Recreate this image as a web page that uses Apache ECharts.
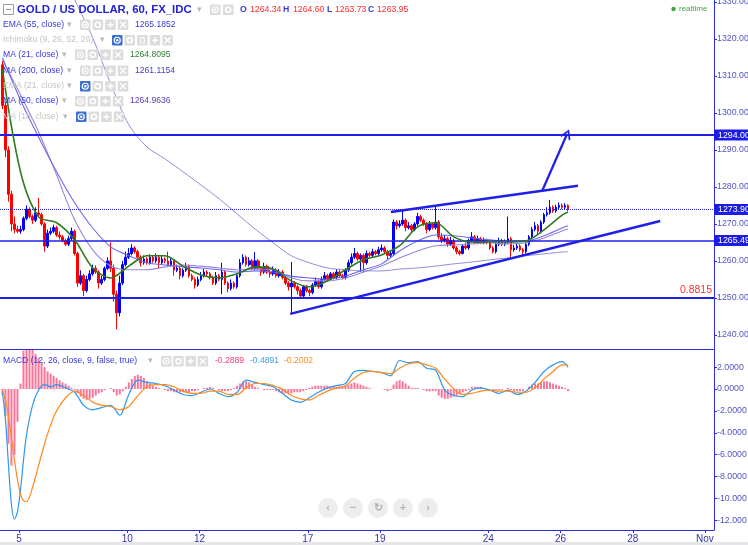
<!DOCTYPE html>
<html><head><meta charset="utf-8">
<script src="https://cdn.jsdelivr.net/npm/echarts@6/dist/echarts.min.js"></script>
<style>html,body{margin:0;padding:0;background:#fff}#c{width:748px;height:545px}</style>
</head><body><div id="c"></div>
<script>
// ---------- DATA (2-hour bars) ----------
const firstOpen = 1313;
const closes = [
1302,1290,1278,1270,1268.5,1268,1268.5,1271.5,1274,1272,
1271,1273,1272.5,1270,1264,1267.5,1268,1269,1267,1266.5,
1265.5,1264.5,1266,1268,1262,1254,1256,1252,1255,1256.5,
1258,1257,1254,1255,1258,1260,1258,1251,1246,1254,
1259,1261,1262,1263.5,1262.5,1261,1259.5,1260.5,1259.5,1261,
1260,1261,1259.5,1260.5,1260,1259,1260,1257.5,1258,1256,
1257.5,1258.5,1256,1255,1253.5,1255,1256,1257,1256.5,1255.5,
1254,1256,1255,1257,1254,1252.5,1254,1253,1256,1259.5,
1261,1259,1260,1258,1260,1258,1257,1258.5,1257,1256.5,
1257.5,1256,1257,1255.5,1254,1253,1254,1253,1252,1250.5,
1253,1252,1251.5,1253.5,1254.5,1253,1255,1256,1255,1256.5,
1255.5,1257,1256,1255.5,1257.5,1259.5,1261,1262,1260.5,1261.5,
1259.5,1262,1261.5,1262.5,1262,1263,1263.5,1262.5,1261.5,1262,
1270.5,1269.5,1270,1271,1269,1269.5,1268.5,1270,1272,1271,
1270,1268.5,1270,1269,1270.5,1266.5,1265.5,1266,1264.5,1265.5,
1263.5,1262.5,1262,1264,1263.5,1265.5,1266.5,1265,1266,1265,
1265.5,1265,1263.5,1262.5,1264.5,1265.5,1264.5,1265,1266,1263,
1263.5,1264,1263,1262.5,1264.5,1266.5,1268.5,1269.5,1268,1270.5,
1272.5,1273,1274.5,1273.5,1274.5,1275,1274.5,1275,1273.9
];
const highs = [
1314,1303,1291,1279,1272,1269.5,1269.5,1272,1275,1274.5,
1272.5,1274.5,1277,1273,1270.5,1268.5,1269,1269.8,1269.5,1268,
1267,1266,1266.8,1269,1268.5,1262.5,1257.5,1256.5,1256,1257.5,
1259,1258.8,1257.5,1256,1258.5,1261,1265,1259,1252,1256,
1260,1262.5,1263.5,1264.5,1264,1263,1261.5,1261.5,1261,1261.8,
1261.5,1262,1261.5,1261.5,1261,1262.5,1261,1260.5,1259,1258.5,
1258,1259.5,1259,1256.5,1255.5,1255.8,1257,1257.8,1257.5,1257,
1256,1257,1256.5,1259.5,1257.5,1254.5,1255,1254.5,1256.5,1260.5,
1261.8,1261.5,1261,1260.5,1262.4,1260.5,1258.5,1259.5,1259,1258,
1258.5,1258,1257.8,1257.5,1256,1254.5,1259.7,1254.5,1253.5,1252.5,
1253.5,1253.5,1252.5,1254,1255.5,1255,1255.8,1257,1256.5,1257,
1257,1257.8,1257.5,1256.5,1258,1260.3,1262,1263.5,1262.5,1262,
1262,1262.8,1262.5,1263.3,1263,1263.8,1264.5,1264,1263,1262.8,
1271.2,1271,1271,1273.8,1271.5,1270.5,1270,1270.5,1273,1272.5,
1271.5,1270.5,1270.8,1270.5,1274.6,1271,1267.5,1267,1266.5,1266.5,
1266,1264,1263,1264.5,1265,1266,1267.8,1267,1266.8,1266.5,
1266.3,1266,1265.5,1264,1265,1266.3,1266,1265.8,1272,1266.5,
1264.3,1264.8,1264.5,1263.5,1265,1267,1269.2,1270.5,1270,1271,
1273,1274.5,1276.5,1275,1275.2,1275.8,1275.5,1275.6,1275.3
];
const lows = [
1301,1288,1276,1268,1267.5,1267.5,1267.3,1268,1271,1271.5,
1270,1270.5,1271.8,1269.5,1262.5,1263.5,1267,1267.5,1266.5,1265.8,
1265,1264,1264,1265.5,1261.5,1253,1253.5,1250.5,1251.5,1254.5,
1256,1256.5,1252.5,1253.5,1254.5,1257.5,1257,1249,1241.5,1245,
1253.5,1258.5,1260.5,1261.5,1262,1260.5,1258.5,1259,1259,1259,
1259.5,1259.5,1258,1259,1259.3,1258.3,1258.5,1256,1257,1255,
1255.5,1257,1255.5,1254.5,1252.5,1253,1254.5,1255.5,1255.8,1255,
1253.5,1253.5,1254.5,1251,1253.5,1251.5,1252,1252.5,1252.5,1255.5,
1259,1258.5,1258.5,1257.5,1257.5,1257.5,1256,1256.5,1256.5,1255.5,
1256,1255.5,1255.5,1255,1253.5,1252,1246,1252.5,1251,1250,
1250,1251.5,1250.5,1251,1253,1252.5,1252.5,1254.5,1254.5,1254.8,
1255,1255,1255.5,1255,1255,1257,1259,1260.5,1260,1257,
1256.8,1259,1261,1261,1261.5,1261.5,1262.5,1262,1260.5,1261,
1261.5,1268.5,1269,1269.5,1268,1268.5,1267.5,1268,1269.5,1270.5,
1269.5,1267.5,1268,1268.5,1268.5,1265.8,1264.8,1265,1263.8,1264,
1263,1261.8,1261.5,1261.8,1263,1263,1265,1264.5,1264.5,1264.5,
1264.5,1264.5,1263,1262,1262,1264,1264,1264,1264.5,1261,
1262.5,1263,1262.5,1261.5,1262,1264,1266,1268,1267,1267.5,
1270,1272,1272.5,1273,1273,1274,1274,1274,1273.5
];
// moving averages sampled at these bar indices
const maIdx = [0,6,12,18,24,30,36,42,48,54,60,66,72,78,84,90,96,102,108,114,120,126,132,138,144,150,156,162,168,174,180,186,188];
const ma21 = [1311.6,1284.1,1271.9,1270.3,1265.7,1258.1,1255.4,1258.6,1261.4,1261.4,1258.6,1256.2,1255.4,1256.5,1258.4,1257.8,1254.6,1253.0,1254.6,1257.6,1260.3,1261.6,1264.1,1269.2,1270.3,1266.5,1265.1,1265.1,1265.1,1265.4,1268.4,1272.4,1273.2];
const ema55 = [1314.9,1303.5,1293.5,1284.1,1275.7,1268.9,1263.8,1261.4,1259.5,1258.9,1258.4,1258.1,1257.6,1257.0,1257.3,1257.0,1255.9,1255.4,1255.1,1255.9,1257.6,1259.2,1262.7,1265.4,1267.0,1266.8,1266.2,1265.7,1265.4,1265.4,1266.8,1268.9,1269.5];
const ma50 = [1314.3,1304.9,1294.9,1283.2,1271.1,1263.0,1258.6,1257.6,1257.6,1258.4,1258.9,1258.6,1258.1,1257.6,1257.8,1257.6,1255.4,1254.6,1254.6,1255.4,1257.0,1258.6,1260.8,1262.7,1264.1,1264.3,1264.6,1264.9,1264.6,1264.9,1266.2,1268.1,1268.6];
const ma200 = [null,null,null,null,1330.5,1320.3,1307.8,1296.8,1290.8,1287.6,1284.1,1280.5,1276.8,1272.7,1268.6,1264.9,1261.4,1259.5,1258.1,1257.6,1257.3,1257.3,1257.8,1258.1,1258.6,1259.2,1259.7,1260.3,1260.8,1261.4,1261.9,1262.4,1262.5];
// MACD lines sampled at these bar indices
const macdIdx = [0,1,2,3,4,5,6,7,8,10,12,14,16,18,21,24,27,30,33,36,39,42,45,48,51,54,57,60,63,66,69,72,75,78,81,84,87,90,93,96,99,102,105,108,111,114,117,120,123,126,129,132,135,138,141,144,147,150,153,156,159,162,165,168,171,174,177,180,183,186,188];
const macdLine = [-0.3,-2.8,-6.9,-10.6,-11.9,-11.2,-9.2,-6.5,-4.2,-1.5,-0.1,0.4,0.2,0.4,0.1,-0.3,-1.5,-1.9,-1.7,-1.5,-2.4,-0.5,0.8,0.6,0.5,0.3,-0.1,-0.5,-0.6,-0.3,0,-0.4,-0.7,-0.3,0.8,0.6,0.4,0.2,-0.4,-1.0,-1.2,-0.8,-0.3,0.1,0.3,0.5,1.6,1.7,1.6,1.5,1.2,2.6,2.4,2.5,1.9,1.7,-0.1,-0.6,-0.7,-0.1,0.1,-0.1,-0.4,-0.1,-0.5,-0.2,0.6,1.6,2.2,2.5,2.0];
const signalLine = [-0.2,-1.0,-2.5,-4.5,-6.5,-8.3,-9.6,-10.2,-10.3,-9.0,-7.0,-5.0,-3.3,-2.0,-0.8,-0.2,-0.6,-1.2,-1.5,-1.6,-1.9,-1.6,-0.6,0.2,0.4,0.4,0.2,-0.2,-0.4,-0.4,-0.2,-0.2,-0.5,-0.5,0.1,0.5,0.5,0.3,0.0,-0.6,-0.9,-1.0,-0.6,-0.2,0.1,0.3,1.0,1.5,1.6,1.5,1.4,1.9,2.3,2.4,2.2,1.9,0.9,0.0,-0.5,-0.4,-0.2,-0.1,-0.2,-0.2,-0.3,-0.3,0.1,0.9,1.6,2.2,2.2];
const hist = [
-0.5,-2.5,-5.0,-7.0,-6.0,-3.0,0.5,3.5,4.0,4.0,
3.6,3.2,2.8,2.4,2.0,1.6,1.4,1.2,1.0,0.8,
0.6,0.5,0.3,0.1,-0.1,-0.4,-0.7,-0.9,-1.0,-0.9,
-0.8,-0.6,-0.4,-0.3,-0.1,0.0,0.1,-0.3,-0.6,-0.5,
-0.2,0.2,0.6,0.9,1.2,1.3,1.2,1.0,0.7,0.5,
0.3,0.2,0.1,0.0,-0.1,-0.2,-0.2,-0.3,-0.3,-0.3,
-0.3,-0.3,-0.3,-0.2,-0.2,-0.1,0.0,0.1,0.1,0.2,
0.1,0.0,-0.1,-0.2,-0.2,-0.2,-0.1,0.1,0.3,0.5,
0.7,0.7,0.6,0.4,0.2,0.1,0.0,-0.1,-0.1,-0.1,
-0.1,-0.2,-0.3,-0.4,-0.4,-0.4,-0.4,-0.3,-0.3,-0.3,
-0.2,-0.1,0.1,0.2,0.3,0.3,0.3,0.3,0.3,0.2,
0.2,0.2,0.2,0.2,0.3,0.4,0.5,0.6,0.5,0.4,
0.3,0.2,0.1,0.0,0.0,0.0,0.0,-0.1,-0.2,-0.1,
0.4,0.7,0.8,0.7,0.5,0.3,0.1,0.1,0.1,0.0,
-0.1,-0.2,-0.2,-0.2,-0.2,-0.6,-0.8,-0.9,-0.9,-0.8,
-0.7,-0.6,-0.5,-0.3,-0.2,-0.1,0.2,0.2,0.2,0.2,
0.1,0.0,0.0,-0.1,-0.1,-0.1,-0.1,0.0,0.1,-0.1,
-0.2,-0.2,-0.2,-0.2,0.0,0.2,0.4,0.5,0.5,0.6,
0.7,0.7,0.6,0.5,0.4,0.3,0.2,0.1,-0.2
];
// axes (x in trading days from Oct 5)
const dayTicks = [0,3,5,8,10,13,15,17,19];
const dayLabels = ['5','10','12','17','19','24','26','28','Nov'];
const priceTicks = [1240,1250,1260,1270,1280,1290,1300,1310,1320,1330];
const macdTicks = [2,0,-2,-4,-6,-8,-10,-12];
// drawn levels and trend lines
const levelTarget = 1294, levelLast = 1273.9, levelSupport = 1265.49, levelBase = 1250, countdownLevel = 1270.8;
const trendUpper = [[10.30,1273.2],[15.48,1280.3]];
const trendLower = [[7.51,1245.7],[17.76,1270.8]];
const arrowLine = [[14.49,1278.9],[15.18,1294.3]];

// ---------- BUILD ----------
const barDay = i => -0.5 + (i + 0.5) / 12;
const candles = closes.map((c, i) => [barDay(i), i === 0 ? firstOpen : closes[i-1], c, lows[i], highs[i]]);
const maSeries = arr => maIdx.map((b, k) => [barDay(b), arr[k]]).filter(p => p[1] != null);
const mSeries = arr => macdIdx.map((b, k) => [barDay(b), arr[k]]);
const histData = hist.map((v, i) => [barDay(i), v]);

const FONT = '"Liberation Sans", Arial, Helvetica, sans-serif';
const AX = '#2d2de0';
const LINE = '#1f1fe8';
const AXLBL = '#5353c2';

const tag = (txt) => ({show:true, position:'end', distance:0, formatter:txt, backgroundColor:'#1c1ce6', color:'#fff',
  fontSize:8.8, fontFamily:FONT, padding:[1,3,1,4]});

const G = [];
function T(x,y,s,fill,size,weight,align,z){ G.push({type:'text', x:x, y:y, silent:true, z:z||100,
  style:{text:s, fill:fill, font:(weight||'normal')+' '+size+'px '+FONT, textAlign:align||'left', textVerticalAlign:'middle', verticalAlign:'middle'}}); }
function L(x1,y1,x2,y2,c,w){ G.push({type:'line', silent:true, z:101, shape:{x1,y1,x2,y2}, style:{stroke:c, lineWidth:w}}); }
function ICON(x,y,kind,on){
  G.push({type:'rect', silent:true, z:100, shape:{x:x, y:y-5, width:10.5, height:10.5, r:1}, style:{fill:on?'#3e6fd6':'#dcdcdc'}});
  const cx = x+5.25, cy = y+0.25;
  if(kind==='eye'){ G.push({type:'circle', silent:true, z:101, shape:{cx,cy,r:3}, style:{fill:'none', stroke:'#fff', lineWidth:1.2}});
    G.push({type:'circle', silent:true, z:101, shape:{cx,cy,r:1.2}, style:{fill:'#fff'}}); }
  else if(kind==='gear'){ G.push({type:'circle', silent:true, z:101, shape:{cx,cy,r:2.5}, style:{fill:'none', stroke:'#fff', lineWidth:1.6}}); }
  else if(kind==='plus'){ L(cx-3,cy,cx+3,cy,'#fff',1.5); L(cx,cy-3,cx,cy+3,'#fff',1.5); }
  else if(kind==='x'){ L(cx-3,cy-3,cx+3,cy+3,'#fff',1.3); L(cx-3,cy+3,cx+3,cy-3,'#fff',1.3); }
  else if(kind==='br'){ T(cx,cy,'{}','#fff',8,'bold','center',101); }
}
// title row
G.push({type:'rect', silent:true, z:100, shape:{x:3.5,y:4.5,width:10,height:10}, style:{fill:'none', stroke:'#9c9c9c', lineWidth:1}});
L(6,9.5,11,9.5,'#9c9c9c',1.2);
T(17,10,'GOLD / US DOLLAR, 60, FX_IDC','#2222d6',11.4,'bold');
T(197,9.5,'▾','#b8b8b8',9);
ICON(210,9.5,'eye',false); ICON(223,9.5,'gear',false);
T(240,9.5,'O','#3a3ae0',8.7,'bold'); T(250,9.5,'1264.34','#ff2b2b',8.7);
T(283,9.5,'H','#3a3ae0',8.7,'bold'); T(293,9.5,'1264.60','#ff2b2b',8.7);
T(327,9.5,'L','#3a3ae0',8.7,'bold'); T(335,9.5,'1263.73','#ff2b2b',8.7);
T(368,9.5,'C','#3a3ae0',8.7,'bold'); T(377,9.5,'1263.95','#ff2b2b',8.7);
// indicator rows
const BT = '#3737e2', GT = '#c4c4c4';
const rows = [
  [24.5,'EMA (55, close)',BT,67,80,['eye','gear','plus','x'],false,'1265.1852','#3a3ad8',135],
  [40,'Ichimoku (9, 26, 52, 26)',GT,100,112,['eye','gear','br','plus','x'],true,null],
  [54.5,'MA (21, close)',BT,62,75,['eye','gear','plus','x'],false,'1264.8095','#2e7d32',130],
  [70.5,'MA (200, close)',BT,67,80,['eye','gear','plus','x'],false,'1261.1154','#4343c4',135],
  [86,'EMA (21, close)',GT,67,80,['eye','gear','plus','x'],true,null],
  [101,'MA (50, close)',BT,62,75,['eye','gear','plus','x'],false,'1264.9636','#5b3fb5',130],
  [116.5,'MA (18, close)',GT,63,76,['eye','gear','plus','x'],true,null]
];
rows.forEach(r => {
  T(3,r[0],r[1],r[2],8.6);
  T(r[3],r[0],'▾','#b8b8b8',9);
  r[5].forEach((k,j) => ICON(r[4]+j*12.6, r[0], k, r[6] && j===0));
  if(r[7]) T(r[9],r[0],r[7],r[8],8.6);
});
// realtime
G.push({type:'circle', silent:true, z:100, shape:{cx:673.5,cy:9,r:2.2}, style:{fill:'#43a047'}});
T(679,9,'realtime','#43a047',8);
// MACD legend
T(3,361,'MACD (12, 26, close, 9, false, true)',BT,8.6);
T(148,361,'▾','#b8b8b8',9);
['eye','gear','plus','x'].forEach((k,j)=>ICON(161+j*12.2,361,k,false));
T(215,361,'-0.2889','#ff3b7b',8.6); T(250,361,'-0.4891','#3a9cf0',8.6); T(284,361,'-0.2002','#ff8c1a',8.6);
// navigation buttons
['‹','−','↻','+','›'].forEach((s,j)=>{
  G.push({type:'circle', silent:true, z:100, shape:{cx:328+j*25, cy:508, r:10}, style:{fill:'#ededed'}});
  T(328+j*25,508,s,'#b4b4b4',11,'bold','center',101);
});
// bottom strip
G.push({type:'rect', silent:true, z:0, shape:{x:0,y:542,width:748,height:3}, style:{fill:'#e5e5ea'}});

const chevron = 'path://M5,0 L10,9 L8.6,10 L5,3 L1.4,10 L0,9 Z';

const option = {
  animation:false,
  backgroundColor:'#fff',
  grid:[{left:0, top:0, width:714, height:349, outerBoundsMode:'none', containLabel:false},
        {left:0, top:350, width:714, height:180, outerBoundsMode:'none', containLabel:false}],
  xAxis:[
    {type:'value', gridIndex:0, min:-0.526, max:19.25, axisLine:{show:true, onZero:false, lineStyle:{color:AX, width:1}}, axisTick:{show:false}, axisLabel:{show:false}, splitLine:{show:false}},
    {type:'value', gridIndex:1, min:-0.526, max:19.25, axisLine:{show:true, onZero:false, lineStyle:{color:AX, width:1}},
     axisTick:{show:true, customValues:dayTicks, length:3, lineStyle:{color:AX}},
     axisLabel:{customValues:dayTicks, formatter:v => dayLabels[dayTicks.indexOf(v)], color:'#3535a8', fontSize:10, fontFamily:FONT, margin:4},
     splitLine:{show:false}}
  ],
  yAxis:[
    {type:'value', gridIndex:0, position:'right', min:1236.2, max:1330.5,
     axisLine:{show:true, onZero:false, lineStyle:{color:AX, width:1}},
     axisTick:{show:true, customValues:priceTicks, length:3, lineStyle:{color:AX}},
     axisLabel:{customValues:priceTicks, formatter:v => v.toFixed(2), color:AXLBL, fontSize:8.8, fontFamily:FONT, margin:3},
     splitLine:{show:false}},
    {type:'value', gridIndex:1, position:'right', min:-12.88, max:3.56,
     axisLine:{show:true, onZero:false, lineStyle:{color:AX, width:1}},
     axisTick:{show:true, customValues:macdTicks, length:3, lineStyle:{color:AX}},
     axisLabel:{customValues:macdTicks, formatter:v => { const s = v.toFixed(4); return s.length > 7 ? s.slice(0,7) : s; }, color:AXLBL, fontSize:8.8, fontFamily:FONT, margin:3},
     splitLine:{show:false}}
  ],
  series:[
    {type:'candlestick', xAxisIndex:0, yAxisIndex:0, data:candles, encode:{x:0, y:[1,2,3,4]}, barWidth:2.2, z:3,
     itemStyle:{color:'#0000ff', color0:'#ff0000', borderColor:'#0000ff', borderColor0:'#ff0000', borderWidth:1},
     markLine:{symbol:['none','none'], silent:true, animation:false, precision:2, data:[
       {yAxis:levelTarget, lineStyle:{color:LINE, width:2, type:'solid'}, label:tag('1294.00')},
       {yAxis:levelLast, lineStyle:{color:LINE, width:1, type:'dotted'}, label:tag('1273.90')},
       {yAxis:countdownLevel, lineStyle:{opacity:0}, label:{show:true, position:'end', distance:0, formatter:'{a|12}{b|42:02}',
         rich:{a:{color:AXLBL, fontSize:8.8, fontFamily:FONT, padding:[0,0,0,4]}, b:{color:'#fff', backgroundColor:'#1c1ce6', fontSize:8.8, fontFamily:FONT, padding:[1,3,1,2]}}}},
       {yAxis:levelSupport, lineStyle:{color:LINE, width:1.5, type:'solid'}, label:tag('1265.49')},
       {yAxis:levelBase, lineStyle:{color:LINE, width:2, type:'solid'}, label:{show:true, position:'insideEndTop', distance:[2,2], formatter:'0.8815', color:'#ff3030', fontSize:10.5, fontFamily:FONT}},
       [{coord:trendUpper[0], lineStyle:{color:LINE, width:2.5, type:'solid'}}, {coord:trendUpper[1]}],
       [{coord:trendLower[0], lineStyle:{color:LINE, width:2.5, type:'solid'}}, {coord:trendLower[1]}],
       [{coord:arrowLine[0], symbol:'none', lineStyle:{color:LINE, width:2.2, type:'solid'}}, {coord:arrowLine[1], symbol:chevron, symbolSize:[11,10]}]
     ]}},
    {type:'line', xAxisIndex:0, yAxisIndex:0, data:maSeries(ma200), showSymbol:false, smooth:0.3, z:4, lineStyle:{color:'#8e8ed6', width:1}},
    {type:'line', xAxisIndex:0, yAxisIndex:0, data:maSeries(ma50), showSymbol:false, smooth:0.3, z:4, lineStyle:{color:'#9a86d6', width:1.1}},
    {type:'line', xAxisIndex:0, yAxisIndex:0, data:maSeries(ema55), showSymbol:false, smooth:0.3, z:4, lineStyle:{color:'#6a6aee', width:1.1}},
    {type:'line', xAxisIndex:0, yAxisIndex:0, data:maSeries(ma21), showSymbol:false, smooth:0.3, z:5, lineStyle:{color:'#2e7a1c', width:1.6}},
    {type:'bar', xAxisIndex:1, yAxisIndex:1, data:histData, barWidth:2, z:2, itemStyle:{color:'rgba(245,60,110,0.7)'}},
    {type:'line', xAxisIndex:1, yAxisIndex:1, data:mSeries(macdLine), showSymbol:false, smooth:0.3, z:4, lineStyle:{color:'#2f96f0', width:1.2}},
    {type:'line', xAxisIndex:1, yAxisIndex:1, data:mSeries(signalLine), showSymbol:false, smooth:0.3, z:4, lineStyle:{color:'#ff8a1a', width:1.2}}
  ],
  graphic:{elements:G}
};
const chart = echarts.init(document.getElementById('c'), null, {renderer:'canvas'});
chart.setOption(option);
</script>
</body></html>
